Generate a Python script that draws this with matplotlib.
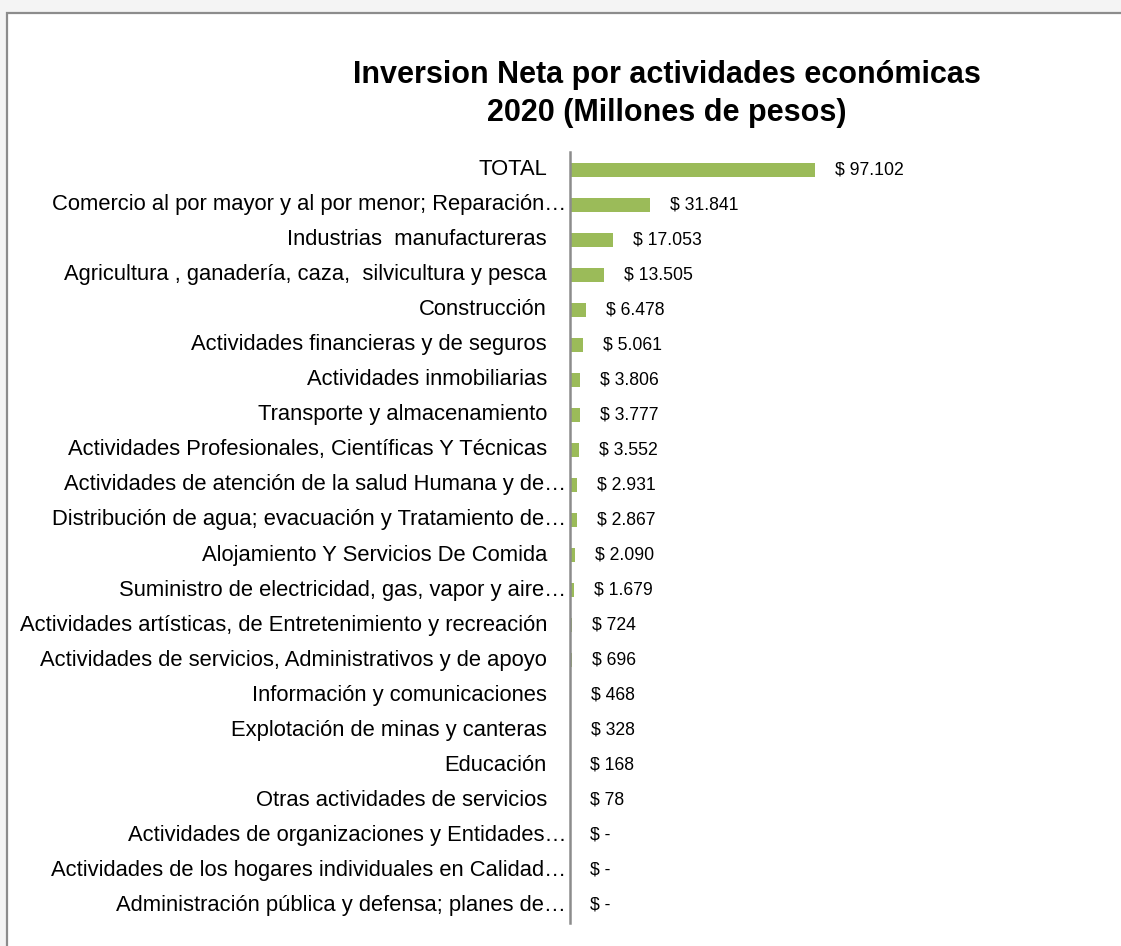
import matplotlib
matplotlib.use("Agg")
import matplotlib.pyplot as plt
from matplotlib.patches import Rectangle
import numpy as np

categories = [
    "TOTAL",
    "Comercio al por mayor y al por menor; Reparación…",
    "Industrias  manufactureras",
    "Agricultura , ganadería, caza,  silvicultura y pesca",
    "Construcción",
    "Actividades financieras y de seguros",
    "Actividades inmobiliarias",
    "Transporte y almacenamiento",
    "Actividades Profesionales, Científicas Y Técnicas",
    "Actividades de atención de la salud Humana y de…",
    "Distribución de agua; evacuación y Tratamiento de…",
    "Alojamiento Y Servicios De Comida",
    "Suministro de electricidad, gas, vapor y aire…",
    "Actividades artísticas, de Entretenimiento y recreación",
    "Actividades de servicios, Administrativos y de apoyo",
    "Información y comunicaciones",
    "Explotación de minas y canteras",
    "Educación",
    "Otras actividades de servicios",
    "Actividades de organizaciones y Entidades…",
    "Actividades de los hogares individuales en Calidad…",
    "Administración pública y defensa; planes de…",
]
values = [97102, 31841, 17053, 13505, 6478, 5061, 3806, 3777, 3552, 2931,
          2867, 2090, 1679, 724, 696, 468, 328, 168, 78, 0, 0, 0]

title_lines = ["Inversion Neta por actividades económicas",
               "2020 (Millones de pesos)"]

plt.rcParams["font.family"] = ["Liberation Sans", "DejaVu Sans"]


def money(v):
    if v == 0:
        return "$ -"
    return "$ " + f"{v:,}".replace(",", ".")


W, H = 1121, 946
fig = plt.figure(figsize=(W / 100, H / 100), dpi=100, facecolor="#f4f4f4")

# white chart area with grey frame
fig.patches.append(Rectangle((7 / W, -0.1), 1.2, 1.1 - 13 / H,
                             transform=fig.transFigure, facecolor="white",
                             edgecolor="#8c8c8c", linewidth=1.6, zorder=-5))

ax = fig.add_axes([570 / W, 1 - 923 / H, 1 - 570 / W, (923 - 152) / H])
ax.set_facecolor("none")
y = np.arange(len(categories))
ax.barh(y, values, height=0.4, color="#9bbb59")
ax.set_xlim(0, 97102 * 551 / 245)
ax.set_ylim(len(categories) - 0.5, -0.5)

for s in ["top", "right", "bottom"]:
    ax.spines[s].set_visible(False)
ax.spines["left"].set_color("#8c8c8c")
ax.spines["left"].set_linewidth(1.8)
ax.set_xticks([])
ax.set_yticks([])

for i, (cat, v) in enumerate(zip(categories, values)):
    off = -4 if cat.endswith("…") else -23
    ax.annotate(cat, xy=(0, i), xycoords=("axes fraction", "data"),
                xytext=(off, 0), textcoords="offset pixels",
                ha="right", va="center", fontsize=15.8, color="black",
                annotation_clip=False)
    ax.annotate(money(v), xy=(v, i), xytext=(20, 0), textcoords="offset pixels",
                ha="left", va="center", fontsize=12.7, color="black",
                annotation_clip=False)

fig.text(667 / W, 1 - 75 / H, title_lines[0], ha="center", va="center",
         fontsize=22, fontweight="bold")
fig.text(667 / W, 1 - 113 / H, title_lines[1], ha="center", va="center",
         fontsize=22, fontweight="bold")

fig.savefig("out.png", dpi=100, facecolor=fig.get_facecolor())
